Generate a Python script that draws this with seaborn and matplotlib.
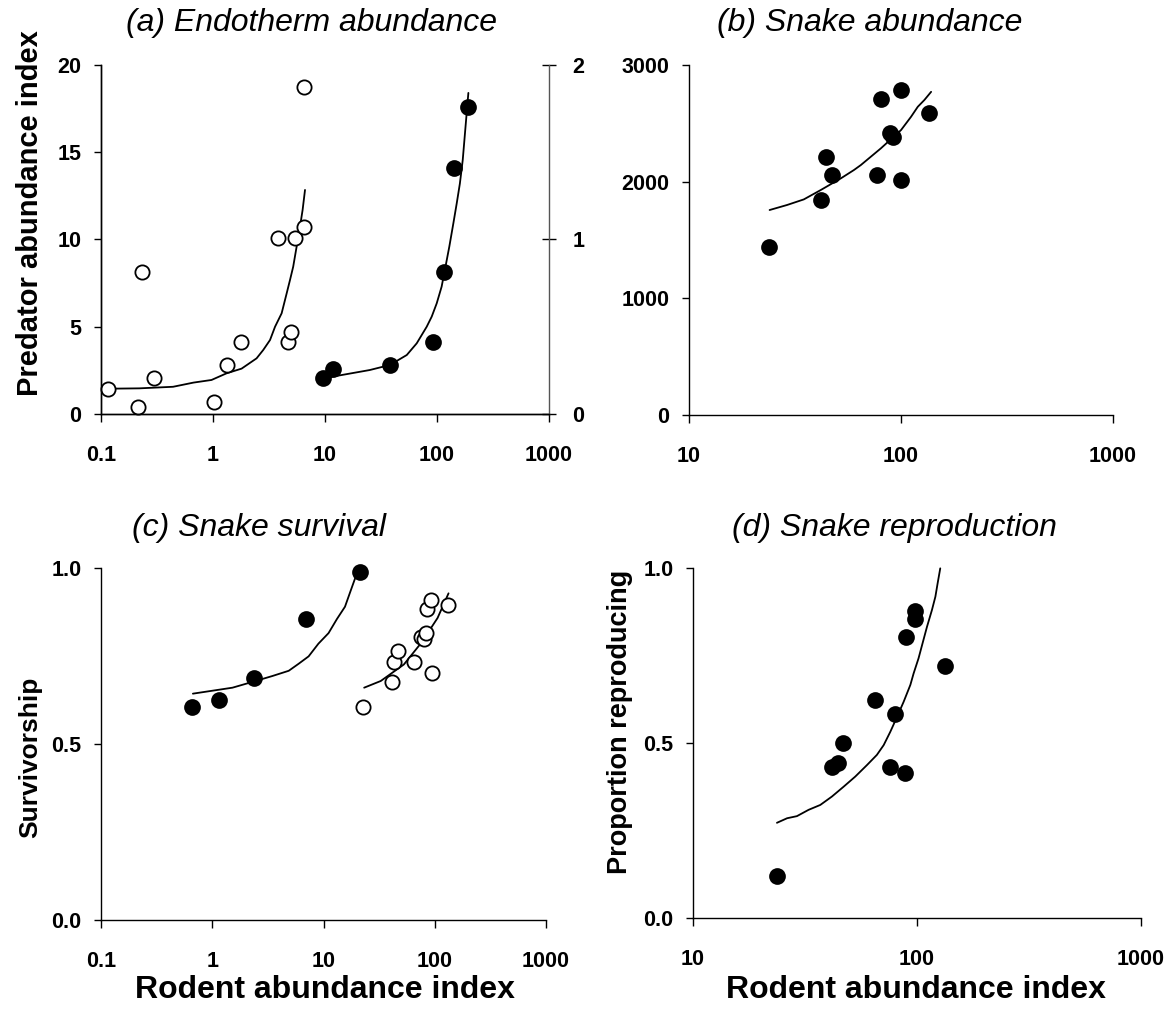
import numpy as np
import pandas as pd
import matplotlib
matplotlib.use("Agg")
import matplotlib.pyplot as plt
import seaborn as sns
from matplotlib.ticker import NullLocator

# ---------------- data ----------------
# (a) Endotherm abundance – open circles (left axis, 0-20)
a_open_x = [0.116, 0.215, 0.23, 0.30, 1.02, 1.32, 1.78, 3.83, 4.64, 5.0, 5.4, 6.5, 6.5]
a_open_y = [1.42, 0.38, 8.15, 2.04, 0.70, 2.81, 4.11, 10.1, 4.11, 4.72, 10.1, 10.7, 18.76]
a_open_fit_x = [0.116, 0.22, 0.44, 0.67, 0.97, 1.32, 1.8, 2.45, 2.81, 3.23, 3.58, 4.1,
                4.55, 4.87, 5.2, 5.58, 5.98, 6.31, 6.63]
a_open_fit_y = [1.45, 1.47, 1.56, 1.8, 1.95, 2.33, 2.6, 3.19, 3.67, 4.24, 5.0, 5.77,
                6.92, 7.68, 8.44, 9.59, 10.73, 11.69, 12.84]
# (a) filled circles (right axis, 0-2)
a_fill_x = [9.66, 11.7, 38, 92.7, 115.5, 143, 188]
a_fill_y = [0.205, 0.256, 0.281, 0.411, 0.812, 1.41, 1.76]
a_fill_fit_x = [10.3, 11.9, 25.1, 38, 53.7, 65.9, 80.9, 89.7, 99.4, 110, 117.5, 128.8,
                140, 150, 160, 169.7, 177.8, 190.6]
a_fill_fit_y = [0.205, 0.215, 0.252, 0.281, 0.338, 0.405, 0.50, 0.558, 0.634, 0.73, 0.825,
                0.959, 1.093, 1.207, 1.32, 1.455, 1.61, 1.84]

# (b) Snake abundance
b_x = [23.8, 41.8, 44.4, 47.5, 76.9, 80.3, 89, 91.3, 100, 100, 136]
b_y = [1442, 1842, 2213, 2056, 2056, 2705, 2414, 2380, 2785, 2014, 2585]
b_fit_x = [24, 29, 34.8, 41.8, 52, 60, 64.6, 80.3, 100, 111.5, 120, 128.9, 138.7]
b_fit_y = [1757, 1800, 1848, 1928, 2028, 2100, 2142, 2285, 2442, 2556, 2642, 2700, 2770]

# (c) Snake survival
c_fill_x = [0.66, 1.14, 2.37, 6.95, 21.3]
c_fill_y = [0.605, 0.625, 0.688, 0.856, 0.99]
c_fill_fit_x = [0.67, 1.52, 2.45, 3.46, 4.87, 5.98, 7.35, 9.0, 11.1, 13.2, 15.6, 17.3, 19.2, 20.5]
c_fill_fit_y = [0.643, 0.66, 0.679, 0.693, 0.708, 0.728, 0.749, 0.785, 0.815, 0.855, 0.89,
                0.93, 0.97, 0.985]
c_open_x = [22.7, 41.3, 43, 46.8, 65, 94, 74.5, 79.4, 83.3, 85, 93, 130.5]
c_open_y = [0.605, 0.676, 0.733, 0.764, 0.733, 0.703, 0.803, 0.797, 0.815, 0.883, 0.91, 0.895]
c_open_fit_x = [23.2, 32.7, 52.8, 75.5, 106, 133]
c_open_fit_y = [0.66, 0.679, 0.726, 0.787, 0.858, 0.928]

# (d) Snake reproduction
d_x = [23.6, 41.7, 44.2, 46.8, 65.2, 75.5, 80, 88, 89.3, 98.2, 98.2, 133.6]
d_y = [0.12, 0.432, 0.444, 0.501, 0.623, 0.432, 0.583, 0.413, 0.804, 0.854, 0.877, 0.721]
d_fit_x = [23.7, 26.3, 29.1, 32.8, 37, 41.7, 47, 53, 59.8, 66.2, 71, 76, 81.5, 87.2, 93.4,
           96.6, 101.6, 106.4, 110.8, 116.6, 120.8, 123.6, 127]
d_fit_y = [0.272, 0.285, 0.291, 0.309, 0.323, 0.347, 0.375, 0.404, 0.437, 0.466, 0.494,
           0.532, 0.575, 0.618, 0.666, 0.699, 0.742, 0.79, 0.832, 0.88, 0.918, 0.956, 0.999]

x_ticks_wide = [0.1, 1, 10, 100, 1000]
x_labels_wide = ["0.1", "1", "10", "100", "1000"]
x_ticks_narrow = [10, 100, 1000]
x_labels_narrow = ["10", "100", "1000"]

titles = ["(a) Endotherm abundance", "(b) Snake abundance",
          "(c) Snake survival", "(d) Snake reproduction"]

# ---------------- figure ----------------
sns.set_theme(style="ticks")
plt.rcParams["font.family"] = ["Liberation Sans", "DejaVu Sans"]
plt.rcParams["axes.linewidth"] = 1.0
for k in ("text.color", "axes.labelcolor", "xtick.color", "ytick.color", "axes.edgecolor"):
    plt.rcParams[k] = "black"

W, H = 1171, 1011
fig = plt.figure(figsize=(W / 100, H / 100), dpi=100)
fig.patch.set_facecolor("white")


def px_axes(l, r, t, b):
    return fig.add_axes([l / W, 1 - b / H, (r - l) / W, (b - t) / H])


TICK_FS = 15.5
OPEN = dict(facecolor="white", edgecolor="black", linewidth=1.3, s=105, zorder=3)
FILL = dict(color="black", edgecolor="black", linewidth=0, s=145, zorder=3)
LINE = dict(color="black", linewidth=1.3, sort=False, estimator=None)


def style(ax, xt, xl, yt, yl):
    ax.set_xscale("log")
    ax.set_xlim(xt[0], xt[-1])
    ax.set_ylim(yt[0], yt[-1])
    ax.set_xticks(xt, xl, fontweight="bold", fontsize=TICK_FS)
    ax.set_yticks(yt, yl, fontweight="bold", fontsize=TICK_FS)
    ax.xaxis.set_minor_locator(NullLocator())
    ax.tick_params(axis="x", direction="out", length=6, width=1, pad=16, colors="black")
    ax.tick_params(axis="y", direction="out", length=5, width=1, pad=9, colors="black")
    for s in ("top", "right"):
        ax.spines[s].set_visible(False)
    for s in ("left", "bottom"):
        ax.spines[s].set_color("black")
    ax.set_xlabel("")
    ax.set_ylabel("")
    ax.set_facecolor("none")


# (a)
axA = px_axes(101, 549, 65, 414)
axA2 = axA.twinx()
sns.lineplot(x=a_open_fit_x, y=a_open_fit_y, ax=axA, **LINE)
sns.scatterplot(x=a_open_x, y=a_open_y, ax=axA, **OPEN)
sns.lineplot(x=a_fill_fit_x, y=a_fill_fit_y, ax=axA2, **LINE)
sns.scatterplot(x=a_fill_x, y=a_fill_y, ax=axA2, **FILL)
axA2.set_ylim(0, 2)
axA2.set_yticks([0, 1, 2], ["0", "1", "2"], fontweight="bold", fontsize=TICK_FS)
axA2.tick_params(axis="y", direction="inout", length=10, width=1, pad=12, colors="black")
axA2.spines["top"].set_visible(False)
axA2.spines["right"].set_visible(True)
axA2.spines["right"].set_color("#555555")
axA2.set_ylabel("")
axA2.set_xlabel("")
style(axA, x_ticks_wide, x_labels_wide, [0, 5, 10, 15, 20], ["0", "5", "10", "15", "20"])

# (b)
axB = px_axes(689, 1113, 65, 415)
sns.lineplot(x=b_fit_x, y=b_fit_y, ax=axB, **LINE)
sns.scatterplot(x=b_x, y=b_y, ax=axB, **FILL)
style(axB, x_ticks_narrow, x_labels_narrow, [0, 1000, 2000, 3000], ["0", "1000", "2000", "3000"])

# (c)
axC = px_axes(101, 546, 568, 920)
sns.lineplot(x=c_fill_fit_x, y=c_fill_fit_y, ax=axC, **LINE)
sns.scatterplot(x=c_fill_x, y=c_fill_y, ax=axC, **FILL)
sns.lineplot(x=c_open_fit_x, y=c_open_fit_y, ax=axC, **LINE)
sns.scatterplot(x=c_open_x, y=c_open_y, ax=axC, **OPEN)
style(axC, x_ticks_wide, x_labels_wide, [0, 0.5, 1.0], ["0.0", "0.5", "1.0"])

# (d)
axD = px_axes(693, 1141, 568, 918)
sns.lineplot(x=d_fit_x, y=d_fit_y, ax=axD, **LINE)
sns.scatterplot(x=d_x, y=d_y, ax=axD, **FILL)
style(axD, x_ticks_narrow, x_labels_narrow, [0, 0.5, 1.0], ["0.0", "0.5", "1.0"])

for ax in (axA, axA2, axB, axC, axD):
    for coll in ax.collections:
        coll.set_clip_on(False)
    for ln in ax.lines:
        ln.set_clip_on(False)

# titles
TITLE_FS = 23
for (cx, cy), t in zip([(311, 23), (870, 23), (259, 528), (894, 528)], titles):
    fig.text(cx / W, 1 - cy / H, t, ha="center", va="center",
             fontsize=TITLE_FS, style="italic")

# axis labels
fig.text(30 / W, 1 - 213 / H, "Predator abundance index", rotation=90,
         ha="center", va="center", fontsize=21, fontweight="bold")
fig.text(30 / W, 1 - 757 / H, "Survivorship", rotation=90,
         ha="center", va="center", fontsize=19, fontweight="bold")
fig.text(620 / W, 1 - 722 / H, "Proportion reproducing", rotation=90,
         ha="center", va="center", fontsize=19.5, fontweight="bold")
fig.text(325 / W, 1 - 990 / H, "Rodent abundance index",
         ha="center", va="center", fontsize=23, fontweight="bold")
fig.text(916 / W, 1 - 990 / H, "Rodent abundance index",
         ha="center", va="center", fontsize=23, fontweight="bold")

fig.savefig("out.png", dpi=100, facecolor="white")
